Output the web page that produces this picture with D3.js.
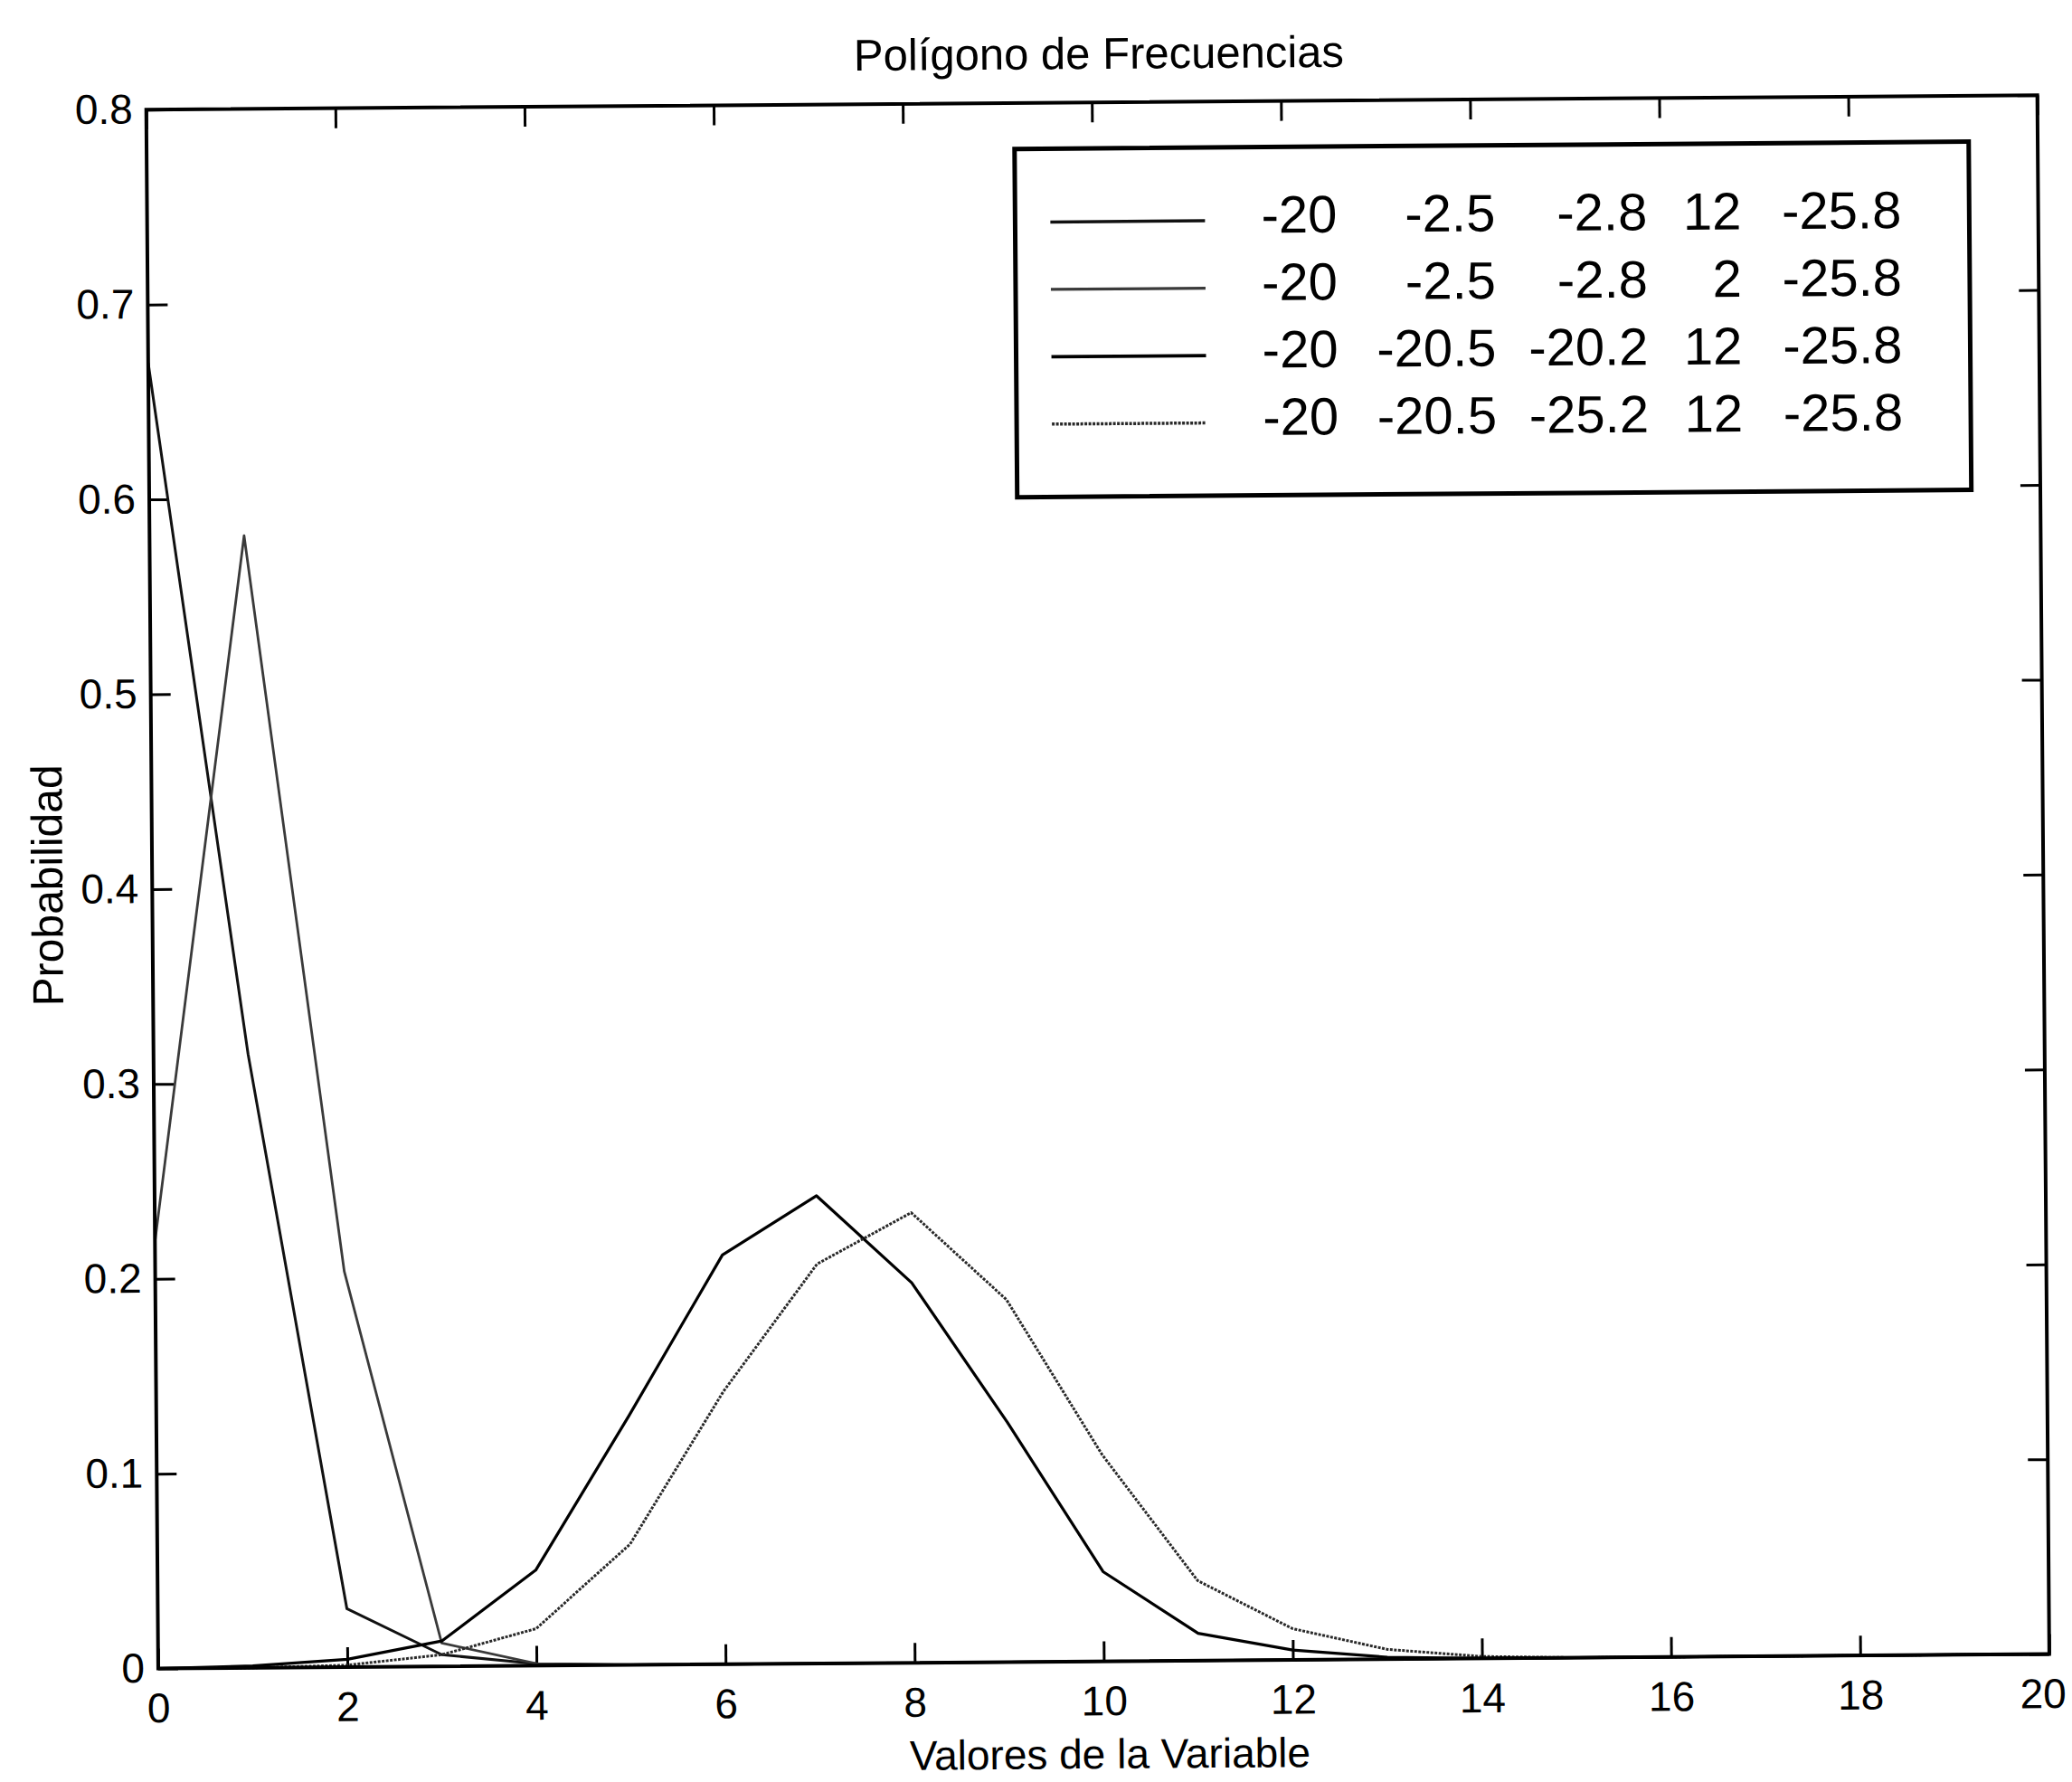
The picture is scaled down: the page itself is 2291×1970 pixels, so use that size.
<!DOCTYPE html>
<html>
<head>
<meta charset="utf-8">
<script src="https://cdn.jsdelivr.net/npm/d3@7"></script>
<style>
  html, body { margin: 0; padding: 0; background: #fff; }
  svg { display: block; }
  text { font-family: "Liberation Sans", Arial, "DejaVu Sans", sans-serif; fill: #000; }
</style>
</head>
<body>
<svg id="chart" width="2291" height="1970"></svg>
<script>
// ---------------- DATA ----------------
const xValues = [0, 1, 2, 3, 4, 5, 6, 7, 8, 9, 10, 11, 12, 13, 14, 15, 16, 17, 18, 19, 20];
const series1 = [0.670, 0.315, 0.030, 0.006, 0.001, 0, 0, 0, 0, 0, 0, 0, 0, 0, 0, 0, 0, 0, 0, 0, 0];
const series2 = [0.219, 0.581, 0.203, 0.012, 0.001, 0, 0, 0, 0, 0, 0, 0, 0, 0, 0, 0, 0, 0, 0, 0, 0];
const series3 = [0, 0.001, 0.004, 0.013, 0.049, 0.128, 0.210, 0.240, 0.195, 0.123, 0.046, 0.014, 0.005, 0.001, 0, 0, 0, 0, 0, 0, 0];
const series4 = [0, 0, 0.001, 0.006, 0.019, 0.062, 0.140, 0.205, 0.231, 0.186, 0.106, 0.041, 0.016, 0.005, 0.001, 0, 0, 0, 0, 0, 0];
const legendRows = [
  ["-20", "-2.5", "-2.8", "12", "-25.8"],
  ["-20", "-2.5", "-2.8", "2", "-25.8"],
  ["-20", "-20.5", "-20.2", "12", "-25.8"],
  ["-20", "-20.5", "-25.2", "12", "-25.8"]
];
const xTickValues = [0, 2, 4, 6, 8, 10, 12, 14, 16, 18, 20];
const xTickLabels = ["0", "2", "4", "6", "8", "10", "12", "14", "16", "18", "20"];
const yTickValues = [0, 0.1, 0.2, 0.3, 0.4, 0.5, 0.6, 0.7, 0.8];
const yTickLabels = ["0", "0.1", "0.2", "0.3", "0.4", "0.5", "0.6", "0.7", "0.8"];
const titleText = "Polígono de Frecuencias";
const xLabelText = "Valores de la Variable";
const yLabelText = "Probabilidad";

// ---------------- LAYOUT ----------------
const plot = { left: 168.3, top: 113.2, width: 2091, height: 1723.4 };
const cx = plot.left + plot.width / 2, cy = plot.top + plot.height / 2;

const svg = d3.select("#chart");
svg.append("rect").attr("width", 2291).attr("height", 1970).attr("fill", "#fff");

// whole figure slightly rotated, like the scanned original
const root = svg.append("g").attr("transform", `rotate(-0.44, ${cx}, ${cy})`);

const x = d3.scaleLinear().domain([0, 20]).range([plot.left, plot.left + plot.width]);
const y = d3.scaleLinear().domain([0, 0.8]).range([plot.top + plot.height, plot.top]);

const tickLen = 22;
const fontFamily = '"Liberation Sans", Arial, sans-serif';

function styleAxis(g, showLabels) {
  g.select(".domain").remove();
  g.selectAll(".tick line").attr("stroke", "#000").attr("stroke-width", 3);
  g.selectAll(".tick text")
    .attr("font-family", fontFamily)
    .attr("font-size", 46)
    .attr("fill", "#000");
  if (!showLabels) g.selectAll(".tick text").remove();
}

// bottom axis
root.append("g")
  .attr("transform", `translate(0, ${plot.top + plot.height})`)
  .call(d3.axisBottom(x).tickValues(xTickValues).tickSize(-tickLen).tickPadding(27)
    .tickFormat((d, i) => xTickLabels[i]))
  .call(g => styleAxis(g, true))
  .call(g => g.selectAll(".tick text").filter(d => d === 20).attr("text-anchor", "end").attr("dx", 18));

// top axis (ticks only)
root.append("g")
  .attr("transform", `translate(0, ${plot.top})`)
  .call(d3.axisTop(x).tickValues(xTickValues).tickSize(-tickLen))
  .call(g => styleAxis(g, false));

// left axis
root.append("g")
  .attr("transform", `translate(${plot.left}, 0)`)
  .call(d3.axisLeft(y).tickValues(yTickValues).tickSize(-tickLen).tickPadding(15)
    .tickFormat((d, i) => yTickLabels[i]))
  .call(g => styleAxis(g, true));

// right axis (ticks only)
root.append("g")
  .attr("transform", `translate(${plot.left + plot.width}, 0)`)
  .call(d3.axisRight(y).tickValues(yTickValues).tickSize(-tickLen))
  .call(g => styleAxis(g, false));

// series lines
const seriesList = [
  { values: series1, color: "#111", width: 3, dash: null },
  { values: series2, color: "#3a3a3a", width: 2.8, dash: null },
  { values: series3, color: "#000", width: 3.2, dash: null },
  { values: series4, color: "#2a2a2a", width: 3, dash: "3,1.5" }
];
const line = d3.line().x(d => x(d[0])).y(d => y(d[1]));

root.append("g").selectAll("path.series")
  .data(seriesList)
  .join("path")
  .attr("class", "series")
  .attr("d", s => line(xValues.map((xv, i) => [xv, s.values[i]])))
  .attr("fill", "none")
  .attr("stroke", s => s.color)
  .attr("stroke-width", s => s.width)
  .attr("stroke-dasharray", s => s.dash)
  .attr("stroke-linejoin", "round");

// frame
root.append("rect")
  .attr("x", plot.left).attr("y", plot.top)
  .attr("width", plot.width).attr("height", plot.height)
  .attr("fill", "none").attr("stroke", "#000").attr("stroke-width", 4);

// legend
const leg = { x: 1128, y: 164, w: 1055, h: 385 };
const legG = root.append("g");
legG.append("rect")
  .attr("x", leg.x).attr("y", leg.y).attr("width", leg.w).attr("height", leg.h)
  .attr("fill", "#fff").attr("stroke", "#000").attr("stroke-width", 5);

const rowY0 = 238, rowStep = 74.5;
const colRight = [1484, 1659, 1827, 1931, 2108];
legendRows.forEach((row, i) => {
  const ry = rowY0 + i * rowStep;
  const s = seriesList[i];
  legG.append("line")
    .attr("x1", 1167).attr("x2", 1338)
    .attr("y1", ry + 7).attr("y2", ry + 7)
    .attr("stroke", s.color).attr("stroke-width", s.width + 0.5)
    .attr("stroke-dasharray", s.dash);
  row.forEach((txt, j) => {
    legG.append("text")
      .attr("x", colRight[j]).attr("y", ry)
      .attr("dy", "0.36em")
      .attr("text-anchor", "end")
      .attr("font-size", 58)
      .text(txt);
  });
});

// title and axis labels
root.append("text")
  .attr("x", 1222).attr("y", 76)
  .attr("text-anchor", "middle")
  .attr("font-size", 49)
  .text(titleText);

root.append("text")
  .attr("x", 1220).attr("y", 1955)
  .attr("text-anchor", "middle")
  .attr("font-size", 46)
  .text(xLabelText);

root.append("text")
  .attr("transform", "translate(69, 970) rotate(-90)")
  .attr("text-anchor", "middle")
  .attr("font-size", 48)
  .text(yLabelText);
</script>
</body>
</html>
